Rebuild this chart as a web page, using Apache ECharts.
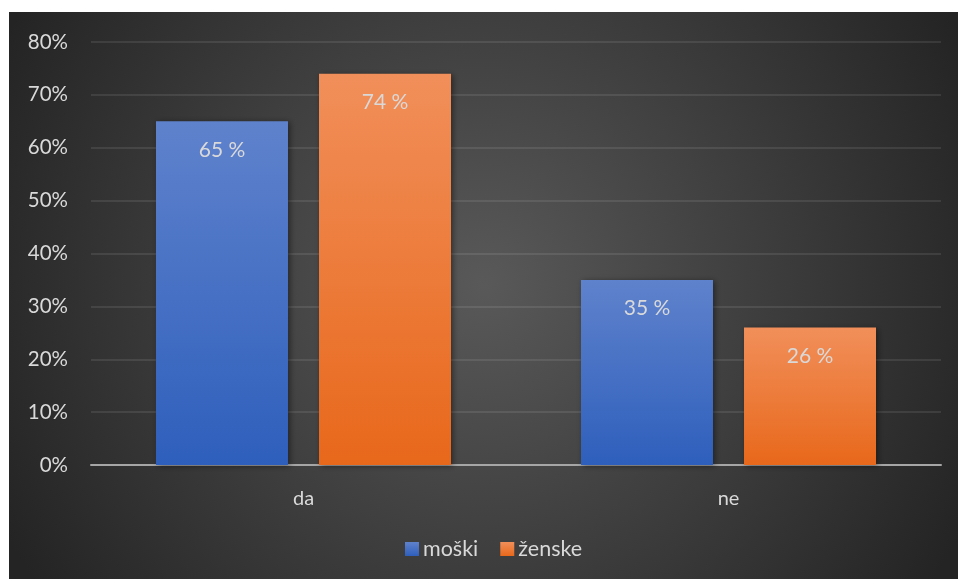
<!DOCTYPE html>
<html>
<head>
<meta charset="utf-8">
<script src="https://cdn.jsdelivr.net/npm/echarts@6/dist/echarts.min.js"></script>
<style>
html,body{margin:0;padding:0;background:#fff;}
#c{width:958px;height:579px;}
</style>
</head>
<body>
<div id="c"></div>
<script>
const categories = ['da', 'ne'];
const moski = [65, 35];
const zenske = [74, 26];
const seriesNames = ['moški', 'ženske'];
const yTicks = [0, 10, 20, 30, 40, 50, 60, 70, 80];

const chart = echarts.init(document.getElementById('c'), null, {renderer: 'canvas'});
const FONT = 'Lato, "Open Sans", sans-serif';
const TXT = '#d9d9d9';

function grad(top, bottom) {
  return new echarts.graphic.LinearGradient(0, 0, 0, 1, [
    {offset: 0, color: top}, {offset: 1, color: bottom}
  ]);
}

const option = {
  backgroundColor: '#ffffff',
  animation: false,
  graphic: [{
    type: 'rect', z: -10, silent: true,
    shape: {x: 9, y: 12, width: 949, height: 567},
    style: {
      fill: {
        type: 'radial', x: 0.5, y: 0.48, r: 0.95,
        colorStops: [
          {offset: 0, color: '#595959'},
          {offset: 1, color: '#242424'}
        ]
      }
    }
  }],
  grid: {left: 91, right: 17, top: 42, bottom: 114, containLabel: false},
  legend: {
    bottom: 14,
    left: 400,
    itemWidth: 14, itemHeight: 14, itemGap: 22,
    icon: 'rect',
    textStyle: {color: TXT, fontSize: 21.5, fontFamily: FONT, padding: [0, 0, 0, -1]},
    data: seriesNames
  },
  xAxis: {
    type: 'category',
    data: categories,
    axisLine: {lineStyle: {color: '#a6a6a6', width: 2}},
    axisTick: {show: false},
    axisLabel: {color: TXT, fontSize: 20, fontFamily: FONT, margin: 24}
  },
  yAxis: {
    type: 'value',
    min: yTicks[0], max: yTicks[yTicks.length - 1], interval: 10,
    axisLine: {show: false},
    axisTick: {show: false},
    axisLabel: {color: TXT, fontSize: 20.5, fontFamily: FONT, margin: 23, formatter: v => v + '%'},
    splitLine: {lineStyle: {color: 'rgba(255,255,255,0.12)', width: 1.5}}
  },
  series: [
    {
      name: seriesNames[0], type: 'bar', data: moski,
      barWidth: 132, barGap: '23.5%',
      itemStyle: {color: grad('#5f82cc', '#2e5fbc'), shadowColor: 'rgba(0,0,0,0.45)', shadowBlur: 6, shadowOffsetX: 2, shadowOffsetY: 1},
      label: {show: true, position: 'insideTop', distance: 18, color: TXT, fontSize: 21, fontFamily: FONT, formatter: p => p.value + ' %'}
    },
    {
      name: seriesNames[1], type: 'bar', data: zenske,
      barWidth: 132,
      itemStyle: {color: grad('#f18f5a', '#e8681b'), shadowColor: 'rgba(0,0,0,0.45)', shadowBlur: 6, shadowOffsetX: 2, shadowOffsetY: 1},
      label: {show: true, position: 'insideTop', distance: 18, color: TXT, fontSize: 21, fontFamily: FONT, formatter: p => p.value + ' %'}
    }
  ]
};
chart.setOption(option);
</script>
</body>
</html>
